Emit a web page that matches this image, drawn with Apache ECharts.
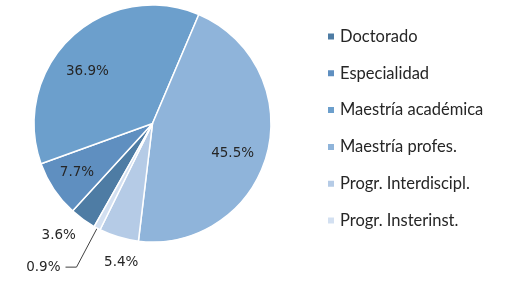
<!DOCTYPE html>
<html>
<head>
<meta charset="utf-8">
<script src="https://cdn.jsdelivr.net/npm/echarts@6/dist/echarts.min.js"></script>
<style>
    html, body { margin: 0; padding: 0; background: #fff; }
    #main { width: 511px; height: 290px; }
</style>
</head>
<body>
<div id="main"></div>
<script type="text/javascript">
// program types, share of total (%)
var categories = ['Doctorado', 'Especialidad', 'Maestría académica', 'Maestría profes.', 'Progr. Interdiscipl.', 'Progr. Insterinst.'];
var shares = [3.6, 7.7, 36.9, 45.5, 5.4, 0.9];
var colors = ['#4e7ca4', '#5f8fc0', '#6c9fcc', '#8fb4da', '#b5cbe6', '#d3e0f1'];

// which labels sit inside the slice, which outside
var insideLabel = [false, true, true, true, false, false];

var center = [152.5, 123.5];
var textColor = '#262626';

// small nudges so the labels land where Excel put them
var outsideNudge = { 0: [10, 0], 4: [32, 0] };
var insideNudge = { 1: [-4, 1], 2: [-6, 10], 3: [-3, 8] };
var lineLen = { 0: [20.5, 0], 4: [26, 0], 5: [44, 11] };

var myChart = echarts.init(document.getElementById('main'));

var mainData = categories.map(function (name, i) {
    var item = {
        name: name,
        value: shares[i],
        itemStyle: { color: colors[i] }
    };
    if (insideLabel[i]) {
        item.label = { show: false };
    } else {
        item.label = { show: true };
        item.labelLine = {
            show: i === 5,
            length: lineLen[i][0],
            length2: lineLen[i][1]
        };
    }
    return item;
});

var overlayData = categories.map(function (name, i) {
    return {
        name: name,
        value: shares[i],
        label: { show: insideLabel[i] }
    };
});

function pct(p) {
    return p.value.toFixed(1) + '%';
}

var option = {
    animation: false,
    legend: {
        orient: 'vertical',
        left: 321,
        top: 23,
        itemWidth: 8,
        itemHeight: 8,
        itemGap: 19.8,
        icon: 'rect',
        selectedMode: false,
        data: categories,
        textStyle: {
            fontFamily: 'Lato',
            fontSize: 16.5,
            lineHeight: 16,
            color: textColor
        }
    },
    series: [{
        name: 'Programas',
        type: 'pie',
        center: center,
        radius: 118.5,
        startAngle: 240.5,
        clockwise: true,
        avoidLabelOverlap: false,
        silent: true,
        itemStyle: {
            borderColor: '#ffffff',
            borderWidth: 1.5
        },
        label: {
            position: 'outside',
            formatter: pct,
            fontFamily: 'DejaVu Sans',
            fontSize: 13.5,
            color: textColor
        },
        labelLine: {
            lineStyle: { color: '#404040', width: 1 }
        },
        labelLayout: function (params) {
            var n = outsideNudge[params.dataIndex];
            if (n) {
                return { dx: n[0], dy: n[1] };
            }
        },
        data: mainData
    }, {
        name: 'Etiquetas',
        type: 'pie',
        center: center,
        radius: 166,
        startAngle: 240.5,
        clockwise: true,
        silent: true,
        avoidLabelOverlap: false,
        itemStyle: { color: 'rgba(0,0,0,0)', borderWidth: 0 },
        emphasis: { disabled: true },
        label: {
            position: 'inside',
            formatter: pct,
            fontFamily: 'DejaVu Sans',
            fontSize: 13.5,
            color: textColor
        },
        labelLine: { show: false },
        labelLayout: function (params) {
            var n = insideNudge[params.dataIndex];
            if (n) {
                return { dx: n[0], dy: n[1] };
            }
        },
        data: overlayData
    }]
};
myChart.setOption(option);
</script>
</body>
</html>
